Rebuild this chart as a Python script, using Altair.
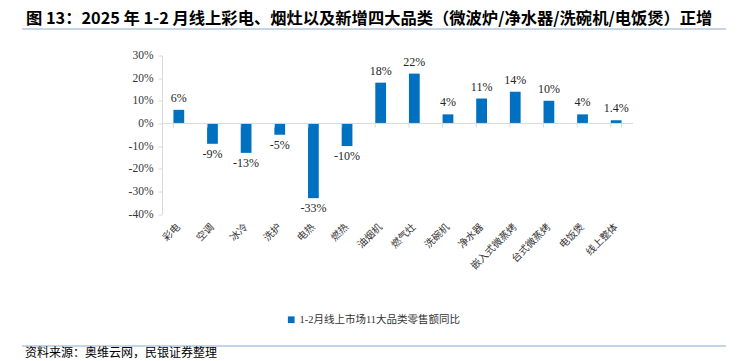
import altair as alt
import pandas as pd

categories = ["彩电", "空调", "冰冷", "洗护", "电热", "燃热", "油烟机", "燃气灶",
              "洗碗机", "净水器", "嵌入式微蒸烤", "台式微蒸烤", "电饭煲", "线上整体"]
values = [6, -9, -13, -5, -33, -10, 18, 22, 4, 11, 14, 10, 4, 1.4]
series_name = "1-2月线上市场11大品类零售额同比"
title_text = "图 13：2025 年 1-2 月线上彩电、烟灶以及新增四大品类（微波炉/净水器/洗碗机/电饭煲）正增"
source_text = "资料来源：奥维云网，民银证券整理"
y_ticks = [-40, -30, -20, -10, 0, 10, 20, 30]

df = pd.DataFrame({"cat": categories, "value": values, "series": series_name})

W, H = 471, 158.5
SERIF = "Liberation Serif, Noto Sans CJK SC"
CJK = "Noto Sans CJK SC"
BLUE = "#0070C0"
GRAY = "#D9D9D9"
LINE = "#8FAACC"

xscale = alt.Scale(domain=categories, paddingInner=0.68, paddingOuter=0.34)
yscale = alt.Scale(domain=[-40, 30], nice=False)

xax = alt.Axis(title=None, domain=False, ticks=False, labelAngle=-45,
               labelAlign="right", labelBaseline="middle", labelPadding=11,
               labelFont=CJK, labelFontSize=10, labelColor="#333333",
               labelOverlap=False, labelLimit=0)
yax = alt.Axis(title=None, values=y_ticks, tickCount=len(y_ticks),
               labelExpr="datum.value + '%'",
               domainColor=GRAY, tickColor=GRAY, tickSize=4, grid=False,
               labelFont=SERIF, labelFontSize=11.5, labelColor="#333333",
               labelPadding=5, labelOverlap=False, labelFlush=False,
               labelSeparation=0)

def X(**kw):
    return alt.X("cat:N", sort=None, scale=xscale, axis=xax, **kw)

def Y(field="value:Q"):
    return alt.Y(field, scale=yscale, axis=yax)

base = alt.Chart(df)

bars = base.mark_bar(color=BLUE).encode(
    x=X(), y=Y(),
    color=alt.Color("series:N", scale=alt.Scale(range=[BLUE]),
                    legend=alt.Legend(title=None, orient="none", legendX=124, legendY=259,
                                      symbolType="square", symbolSize=45,
                                      symbolStrokeWidth=0, labelFont=SERIF,
                                      labelFontSize=10.5, labelColor="#333333",
                                      labelOffset=3, labelLimit=0)),
)

zero = alt.Chart(pd.DataFrame({"z": [0]})).mark_rule(color=GRAY, strokeWidth=1).encode(
    x=alt.value(0), x2=alt.value(W), y=Y("z:Q"))

ticks = base.mark_rule(color=GRAY, strokeWidth=1).encode(
    x=X(bandPosition=0), y=alt.datum(0), y2=alt.datum(-1.8))

ticks_end = alt.Chart(pd.DataFrame({"cat": [categories[-1]]})).mark_rule(
    color=GRAY, strokeWidth=1).encode(
    x=X(bandPosition=1), y=alt.datum(0), y2=alt.datum(-1.8))

lab = base.transform_calculate(label="datum.value + '%'")
pos_labels = lab.transform_filter("datum.value >= 0").mark_text(
    baseline="bottom", dy=-5, font=SERIF, fontSize=12, color="#262626").encode(
    x=X(), y=Y(), text="label:N")
neg_labels = lab.transform_filter("datum.value < 0").mark_text(
    baseline="top", dy=5, font=SERIF, fontSize=12, color="#262626").encode(
    x=X(), y=Y(), text="label:N")

title = alt.Chart(pd.DataFrame({"t": [title_text]})).mark_text(
    align="left", baseline="middle", font=CJK, fontSize=16.3, fontWeight="bold",
    color="#000000").encode(x=alt.value(-136), y=alt.value(-36.5), text="t:N")

title_line = alt.Chart(pd.DataFrame({"z": [0]})).mark_rule(color=LINE, strokeWidth=1.2).encode(
    x=alt.value(-140), x2=alt.value(564), y=alt.value(-26.5))

foot_line = alt.Chart(pd.DataFrame({"z": [0]})).mark_rule(color=LINE, strokeWidth=1.2).encode(
    x=alt.value(-140), x2=alt.value(564), y=alt.value(290.5))

foot = alt.Chart(pd.DataFrame({"t": [source_text]})).mark_text(
    align="left", baseline="top", font=CJK, fontSize=12, color="#000000").encode(
    x=alt.value(-137), y=alt.value(292.5), text="t:N")

chart = alt.layer(bars, zero, ticks, ticks_end, pos_labels, neg_labels,
                  title, title_line, foot_line, foot).properties(
    width=W, height=H,
    autosize=alt.AutoSizeParams(type="none"),
    padding={"left": 154, "top": 47.5, "right": 99, "bottom": 147},
    background="white",
).configure_view(stroke=None).configure_axisY(labelOverlap=False)

chart.save("out.html", embed_options={"renderer": "svg", "actions": False})
